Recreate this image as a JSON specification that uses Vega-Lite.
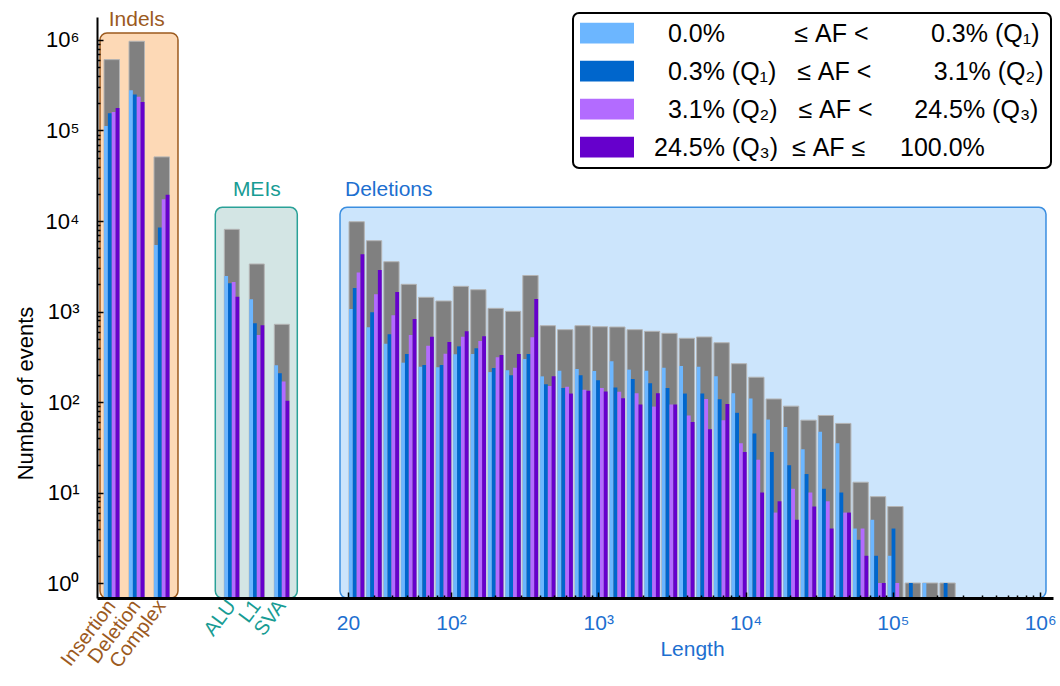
{
  "$schema": "https://vega.github.io/schema/vega-lite/v6.json",
  "width": 956,
  "height": 581,
  "autosize": "none",
  "padding": {"left": 97, "top": 17, "right": 7, "bottom": 88},
  "background": "white",
  "config": {
    "view": {"stroke": null},
    "font": "Liberation Sans",
    "axis": {"labelFont": "Liberation Sans", "titleFont": "Liberation Sans", "grid": false},
    "text": {"font": "Liberation Sans"},
    "legend": {"labelFont": "Liberation Sans", "strokeWidth": 2}
  },
  "datasets": {
    "indels": [
      {"cat": "Insertion", "cls": "total", "n": 607000},
      {"cat": "Insertion", "cls": "q1", "n": 112000},
      {"cat": "Insertion", "cls": "q2", "n": 155000},
      {"cat": "Insertion", "cls": "q3", "n": 160000},
      {"cat": "Insertion", "cls": "q4", "n": 177000},
      {"cat": "Deletion", "cls": "total", "n": 968000},
      {"cat": "Deletion", "cls": "q1", "n": 279000},
      {"cat": "Deletion", "cls": "q2", "n": 250000},
      {"cat": "Deletion", "cls": "q3", "n": 236000},
      {"cat": "Deletion", "cls": "q4", "n": 207000},
      {"cat": "Complex", "cls": "total", "n": 51100},
      {"cat": "Complex", "cls": "q1", "n": 5430},
      {"cat": "Complex", "cls": "q2", "n": 8470},
      {"cat": "Complex", "cls": "q3", "n": 17400},
      {"cat": "Complex", "cls": "q4", "n": 19500}
    ],
    "meis": [
      {"cat": "ALU", "cls": "total", "n": 8090},
      {"cat": "ALU", "cls": "q1", "n": 2470},
      {"cat": "ALU", "cls": "q2", "n": 2050},
      {"cat": "ALU", "cls": "q3", "n": 2120},
      {"cat": "ALU", "cls": "q4", "n": 1460},
      {"cat": "L1", "cls": "total", "n": 3350},
      {"cat": "L1", "cls": "q1", "n": 1365},
      {"cat": "L1", "cls": "q2", "n": 741},
      {"cat": "L1", "cls": "q3", "n": 550},
      {"cat": "L1", "cls": "q4", "n": 703},
      {"cat": "SVA", "cls": "total", "n": 722},
      {"cat": "SVA", "cls": "q1", "n": 254},
      {"cat": "SVA", "cls": "q2", "n": 208},
      {"cat": "SVA", "cls": "q3", "n": 168},
      {"cat": "SVA", "cls": "q4", "n": 103}
    ],
    "dels": [
      {"lo": 20, "cls": "total", "n": 9820}, {"lo": 20, "cls": "q1", "n": 1066}, {"lo": 20, "cls": "q2", "n": 1820}, {"lo": 20, "cls": "q3", "n": 2690}, {"lo": 20, "cls": "q4", "n": 4290},
      {"lo": 26, "cls": "total", "n": 6060}, {"lo": 26, "cls": "q1", "n": 669}, {"lo": 26, "cls": "q2", "n": 980}, {"lo": 26, "cls": "q3", "n": 1550}, {"lo": 26, "cls": "q4", "n": 2870},
      {"lo": 34, "cls": "total", "n": 3550}, {"lo": 34, "cls": "q1", "n": 441}, {"lo": 34, "cls": "q2", "n": 560}, {"lo": 34, "cls": "q3", "n": 908}, {"lo": 34, "cls": "q4", "n": 1640},
      {"lo": 45, "cls": "total", "n": 1997}, {"lo": 45, "cls": "q1", "n": 272}, {"lo": 45, "cls": "q2", "n": 339}, {"lo": 45, "cls": "q3", "n": 550}, {"lo": 45, "cls": "q4", "n": 826},
      {"lo": 59, "cls": "total", "n": 1435}, {"lo": 59, "cls": "q1", "n": 245}, {"lo": 59, "cls": "q2", "n": 256}, {"lo": 59, "cls": "q3", "n": 419}, {"lo": 59, "cls": "q4", "n": 527},
      {"lo": 78, "cls": "total", "n": 1307}, {"lo": 78, "cls": "q1", "n": 242}, {"lo": 78, "cls": "q2", "n": 256}, {"lo": 78, "cls": "q3", "n": 342}, {"lo": 78, "cls": "q4", "n": 460},
      {"lo": 102, "cls": "total", "n": 1897}, {"lo": 102, "cls": "q1", "n": 336}, {"lo": 102, "cls": "q2", "n": 412}, {"lo": 102, "cls": "q3", "n": 527}, {"lo": 102, "cls": "q4", "n": 604},
      {"lo": 134, "cls": "total", "n": 1741}, {"lo": 134, "cls": "q1", "n": 339}, {"lo": 134, "cls": "q2", "n": 392}, {"lo": 134, "cls": "q3", "n": 472}, {"lo": 134, "cls": "q4", "n": 532},
      {"lo": 176, "cls": "total", "n": 1084}, {"lo": 176, "cls": "q1", "n": 214}, {"lo": 176, "cls": "q2", "n": 238}, {"lo": 176, "cls": "q3", "n": 312}, {"lo": 176, "cls": "q4", "n": 331},
      {"lo": 231, "cls": "total", "n": 1005}, {"lo": 231, "cls": "q1", "n": 224}, {"lo": 231, "cls": "q2", "n": 197}, {"lo": 231, "cls": "q3", "n": 239}, {"lo": 231, "cls": "q4", "n": 339},
      {"lo": 303, "cls": "total", "n": 2500}, {"lo": 303, "cls": "q1", "n": 299}, {"lo": 303, "cls": "q2", "n": 339}, {"lo": 303, "cls": "q3", "n": 521}, {"lo": 303, "cls": "q4", "n": 1374},
      {"lo": 398, "cls": "total", "n": 697}, {"lo": 398, "cls": "q1", "n": 192}, {"lo": 398, "cls": "q2", "n": 157}, {"lo": 398, "cls": "q3", "n": 150}, {"lo": 398, "cls": "q4", "n": 192},
      {"lo": 522, "cls": "total", "n": 630}, {"lo": 522, "cls": "q1", "n": 222}, {"lo": 522, "cls": "q2", "n": 143}, {"lo": 522, "cls": "q3", "n": 147}, {"lo": 522, "cls": "q4", "n": 124},
      {"lo": 685, "cls": "total", "n": 697}, {"lo": 685, "cls": "q1", "n": 232}, {"lo": 685, "cls": "q2", "n": 197}, {"lo": 685, "cls": "q3", "n": 137}, {"lo": 685, "cls": "q4", "n": 133},
      {"lo": 899, "cls": "total", "n": 679}, {"lo": 899, "cls": "q1", "n": 220}, {"lo": 899, "cls": "q2", "n": 174}, {"lo": 899, "cls": "q3", "n": 143}, {"lo": 899, "cls": "q4", "n": 131},
      {"lo": 1180, "cls": "total", "n": 674}, {"lo": 1180, "cls": "q1", "n": 282}, {"lo": 1180, "cls": "q2", "n": 145}, {"lo": 1180, "cls": "q3", "n": 130}, {"lo": 1180, "cls": "q4", "n": 110},
      {"lo": 1548, "cls": "total", "n": 630}, {"lo": 1548, "cls": "q1", "n": 228}, {"lo": 1548, "cls": "q2", "n": 180}, {"lo": 1548, "cls": "q3", "n": 125}, {"lo": 1548, "cls": "q4", "n": 94},
      {"lo": 2032, "cls": "total", "n": 604}, {"lo": 2032, "cls": "q1", "n": 222}, {"lo": 2032, "cls": "q2", "n": 161}, {"lo": 2032, "cls": "q3", "n": 89}, {"lo": 2032, "cls": "q4", "n": 125},
      {"lo": 2666, "cls": "total", "n": 574}, {"lo": 2666, "cls": "q1", "n": 239}, {"lo": 2666, "cls": "q2", "n": 143}, {"lo": 2666, "cls": "q3", "n": 94}, {"lo": 2666, "cls": "q4", "n": 94},
      {"lo": 3498, "cls": "total", "n": 506}, {"lo": 3498, "cls": "q1", "n": 250}, {"lo": 3498, "cls": "q2", "n": 124}, {"lo": 3498, "cls": "q3", "n": 71}, {"lo": 3498, "cls": "q4", "n": 60},
      {"lo": 4590, "cls": "total", "n": 523}, {"lo": 4590, "cls": "q1", "n": 245}, {"lo": 4590, "cls": "q2", "n": 124}, {"lo": 4590, "cls": "q3", "n": 108}, {"lo": 4590, "cls": "q4", "n": 50},
      {"lo": 6024, "cls": "total", "n": 452}, {"lo": 6024, "cls": "q1", "n": 192}, {"lo": 6024, "cls": "q2", "n": 107}, {"lo": 6024, "cls": "q3", "n": 63}, {"lo": 6024, "cls": "q4", "n": 95},
      {"lo": 7905, "cls": "total", "n": 265}, {"lo": 7905, "cls": "q1", "n": 125}, {"lo": 7905, "cls": "q2", "n": 76}, {"lo": 7905, "cls": "q3", "n": 35}, {"lo": 7905, "cls": "q4", "n": 28},
      {"lo": 10373, "cls": "total", "n": 188}, {"lo": 10373, "cls": "q1", "n": 109}, {"lo": 10373, "cls": "q2", "n": 45}, {"lo": 10373, "cls": "q3", "n": 23}, {"lo": 10373, "cls": "q4", "n": 10},
      {"lo": 13612, "cls": "total", "n": 108}, {"lo": 13612, "cls": "q1", "n": 64}, {"lo": 13612, "cls": "q2", "n": 28}, {"lo": 13612, "cls": "q3", "n": 6}, {"lo": 13612, "cls": "q4", "n": 8},
      {"lo": 17862, "cls": "total", "n": 90}, {"lo": 17862, "cls": "q1", "n": 53}, {"lo": 17862, "cls": "q2", "n": 20}, {"lo": 17862, "cls": "q3", "n": 11}, {"lo": 17862, "cls": "q4", "n": 5},
      {"lo": 23440, "cls": "total", "n": 63}, {"lo": 23440, "cls": "q1", "n": 30}, {"lo": 23440, "cls": "q2", "n": 16}, {"lo": 23440, "cls": "q3", "n": 10}, {"lo": 23440, "cls": "q4", "n": 7},
      {"lo": 30758, "cls": "total", "n": 71}, {"lo": 30758, "cls": "q1", "n": 47}, {"lo": 30758, "cls": "q2", "n": 11}, {"lo": 30758, "cls": "q3", "n": 8}, {"lo": 30758, "cls": "q4", "n": 4},
      {"lo": 40362, "cls": "total", "n": 58}, {"lo": 40362, "cls": "q1", "n": 35}, {"lo": 40362, "cls": "q2", "n": 10}, {"lo": 40362, "cls": "q3", "n": 6}, {"lo": 40362, "cls": "q4", "n": 6},
      {"lo": 52964, "cls": "total", "n": 13}, {"lo": 52964, "cls": "q1", "n": 4}, {"lo": 52964, "cls": "q2", "n": 3}, {"lo": 52964, "cls": "q3", "n": 4}, {"lo": 52964, "cls": "q4", "n": 2},
      {"lo": 69500, "cls": "total", "n": 9}, {"lo": 69500, "cls": "q1", "n": 5}, {"lo": 69500, "cls": "q2", "n": 2}, {"lo": 69500, "cls": "q3", "n": 1}, {"lo": 69500, "cls": "q4", "n": 1},
      {"lo": 91200, "cls": "total", "n": 7}, {"lo": 91200, "cls": "q1", "n": 2}, {"lo": 91200, "cls": "q2", "n": 4}, {"lo": 91200, "cls": "q3", "n": 1},
      {"lo": 119700, "cls": "total", "n": 1}, {"lo": 119700, "cls": "q2", "n": 1},
      {"lo": 157000, "cls": "total", "n": 1}, {"lo": 157000, "cls": "q1", "n": 1},
      {"lo": 206000, "cls": "total", "n": 1}, {"lo": 206000, "cls": "q2", "n": 1}
    ]
  },
  "resolve": {"scale": {"x": "independent", "xOffset": "independent"}, "axis": {"y": "independent"}},
  "layer": [
    {
      "data": {"values": [{}]},
      "resolve": {"axis": {"x": "independent"}},
      "layer": [
        {
          "mark": {"type": "rect", "fill": "#cce5fc", "stroke": "#3b8ee0", "strokeWidth": 1.5, "cornerRadius": 7},
          "encoding": {
            "x": {"datum": 17.64, "type": "quantitative", "scale": {"type": "log", "domain": [0.3951, 1221800], "nice": false}, "axis": {
              "orient": "bottom",
              "values": [20, 100, 1000, 10000, 100000, 1000000],
              "labelExpr": "datum.value == 20 ? '20' : datum.value == 100 ? '10\u00b2' : datum.value == 1000 ? '10\u00b3' : datum.value == 10000 ? '10\u2074' : datum.value == 100000 ? '10\u2075' : '10\u2076'",
              "tickSize": -6,
              "tickColor": "black", "tickWidth": 1.5,
              "domainColor": "black", "domainWidth": 3,
              "labelColor": "#1d6fd0", "labelFontSize": 21, "labelPadding": 20, "labelOverlap": false, "labelFlush": false,
              "title": "Length", "titleColor": "#1d6fd0", "titleFontSize": 21, "titleFontWeight": "normal", "titleX": 595, "titlePadding": 5,
              "zindex": 1
            }},
            "x2": {"datum": 1095000},
            "y": {"datum": 14170, "type": "quantitative", "scale": {"type": "log", "domain": [0.683, 1795000], "nice": false}, "axis": null},
            "y2": {"datum": 0.683}
          }
        },
        {
          "mark": {"type": "text", "text": "Deletions", "fontSize": 21, "color": "#1d6fd0", "baseline": "middle", "align": "left"},
          "encoding": {
            "x": {"datum": 19.07, "type": "quantitative", "axis": {
              "orient": "bottom",
              "values": [30,40,50,60,70,80,90,200,300,400,500,600,700,800,900,2000,3000,4000,5000,6000,7000,8000,9000,20000,30000,40000,50000,60000,70000,80000,90000,200000,300000,400000,500000,600000,700000,800000,900000],
              "labels": false, "domain": false, "tickSize": -3, "tickColor": "black", "tickWidth": 1.5, "title": null, "zindex": 1
            }},
            "y": {"datum": 22000, "type": "quantitative", "axis": null}
          }
        }
      ]
    },
    {
      "data": {"name": "indels"},
      "layer": [
        {
          "data": {"values": [{}]},
          "mark": {"type": "rect", "fill": "#fdd9b6", "stroke": "#9c5a1e", "strokeWidth": 1.5, "cornerRadius": 7},
          "encoding": {
            "x": {"datum": "Insertion", "type": "nominal", "bandPosition": -0.258, "scale": {"type": "band", "domain": ["Insertion", "Deletion", "Complex"], "range": [7, 72.5], "paddingInner": 0.38, "paddingOuter": 0}},
            "x2": {"datum": "Complex", "bandPosition": 1.548},
            "y": {"datum": 1195000, "type": "quantitative", "scale": {"type": "log", "domain": [0.683, 1795000], "nice": false}},
            "y2": {"datum": 0.683}
          }
        },
        {
          "data": {"values": [{}]},
          "mark": {"type": "text", "text": "Indels", "fontSize": 21, "color": "#9c5a1e", "baseline": "middle", "align": "center"},
          "encoding": {
            "x": {"datum": "Deletion", "type": "nominal"},
            "y": {"datum": 1663000, "type": "quantitative"}
          }
        },
        {
          "transform": [{"filter": "datum.cls == 'total'"}],
          "mark": {"type": "bar", "fill": "#808080", "stroke": "#b4b4b4", "strokeWidth": 1},
          "encoding": {
            "x": {"field": "cat", "type": "nominal", "axis": {"orient": "bottom", "domain": false, "ticks": false, "labelAngle": -53, "labelAlign": "right", "labelBaseline": "middle", "labelColor": "#9c5a1e", "labelFontSize": 20, "labelPadding": 4, "title": null}},
            "y": {"field": "n", "type": "quantitative", "axis": {
              "orient": "left",
              "values": [1, 10, 100, 1000, 10000, 100000, 1000000],
              "labelExpr": "datum.value == 1 ? '10\u2070' : datum.value == 10 ? '10\u00b9' : datum.value == 100 ? '10\u00b2' : datum.value == 1000 ? '10\u00b3' : datum.value == 10000 ? '10\u2074' : datum.value == 100000 ? '10\u2075' : '10\u2076'",
              "tickSize": -6,
              "tickColor": "black", "tickWidth": 1.5,
              "domainColor": "black", "domainWidth": 2,
              "labelColor": "black", "labelFontSize": 22, "labelPadding": 24, "labelOverlap": false, "labelBaseline": "middle",
              "title": "Number of events", "titleFontSize": 22, "titleFontWeight": "normal", "titleColor": "black", "titlePadding": 8, "titleY": 376,
              "zindex": 1
            }},
            "y2": {"datum": 0.683}
          }
        },
        {
          "transform": [{"filter": "datum.cls != 'total'"}],
          "mark": {"type": "bar"},
          "encoding": {
            "x": {"field": "cat", "type": "nominal"},
            "xOffset": {"field": "cls", "type": "nominal", "scale": {"domain": ["q1", "q2", "q3", "q4"], "paddingInner": 0, "paddingOuter": 0}},
            "y": {"field": "n", "type": "quantitative"},
            "y2": {"datum": 0.683},
            "color": {"field": "cls", "type": "nominal",
              "scale": {"domain": ["q1", "q2", "q3", "q4"], "range": ["#6cb6ff", "#0066cc", "#b36bff", "#6600cc"]},
              "legend": {
                "orient": "none", "legendX": 476, "legendY": -4, "title": null,
                "labelExpr": "datum.value == 'q1' ? '\u200b\u00a0\u00a00.0%\u00a0\u00a0\u00a0\u00a0\u00a0\u00a0\u00a0\u00a0\u00a0\u00a0\u2264\u00a0AF\u00a0<\u00a0\u00a0\u00a0\u00a0\u00a0\u00a0\u00a0\u00a0\u00a00.3%\u00a0(Q\u2081)' : datum.value == 'q2' ? '\u200b\u00a0\u00a00.3%\u00a0(Q\u2081)\u00a0\u00a0\u00a0\u2264\u00a0AF\u00a0<\u00a0\u00a0\u00a0\u00a0\u00a0\u00a0\u00a0\u00a0\u00a03.1%\u00a0(Q\u2082)' : datum.value == 'q3' ? '\u200b\u00a0\u00a03.1%\u00a0(Q\u2082)\u00a0\u00a0\u00a0\u2264\u00a0AF\u00a0<\u00a0\u00a0\u00a0\u00a0\u00a0\u00a024.5%\u00a0(Q\u2083)' : '24.5%\u00a0(Q\u2083)\u00a0\u00a0\u2264\u00a0AF\u00a0\u2264\u00a0\u00a0\u00a0\u00a0\u00a0100.0%'",
                "labelFontSize": 25, "labelColor": "black", "labelLimit": 600, "labelBaseline": "bottom",
                "symbolType": "M-1,-0.9H1V-0.13H-1Z", "symbolSize": 2916, "symbolStrokeWidth": 0, "symbolOpacity": 1,
                "labelOffset": 20, "padding": 7, "rowPadding": 11,
                "strokeColor": "black", "fillColor": "white", "cornerRadius": 6
              }
            }
          }
        }
      ]
    },
    {
      "data": {"name": "meis"},
      "layer": [
        {
          "data": {"values": [{}]},
          "mark": {"type": "rect", "fill": "#d3e5e4", "stroke": "#2aa198", "strokeWidth": 1.5, "cornerRadius": 7},
          "encoding": {
            "x": {"datum": "ALU", "type": "nominal", "bandPosition": -0.6, "scale": {"type": "band", "domain": ["ALU", "L1", "SVA"], "range": [127.3, 192.3], "paddingInner": 0.4, "paddingOuter": 0}},
            "x2": {"datum": "SVA", "bandPosition": 1.533},
            "y": {"datum": 14170, "type": "quantitative", "scale": {"type": "log", "domain": [0.683, 1795000], "nice": false}},
            "y2": {"datum": 0.683}
          }
        },
        {
          "data": {"values": [{}]},
          "mark": {"type": "text", "text": "MEIs", "fontSize": 21, "color": "#179c94", "baseline": "middle", "align": "center"},
          "encoding": {
            "x": {"datum": "L1", "type": "nominal"},
            "y": {"datum": 22000, "type": "quantitative"}
          }
        },
        {
          "transform": [{"filter": "datum.cls == 'total'"}],
          "mark": {"type": "bar", "fill": "#808080", "stroke": "#b4b4b4", "strokeWidth": 1},
          "encoding": {
            "x": {"field": "cat", "type": "nominal", "axis": {"orient": "bottom", "domain": false, "ticks": false, "labelAngle": -53, "labelAlign": "right", "labelBaseline": "middle", "labelColor": "#179c94", "labelFontSize": 20, "labelPadding": 4, "title": null}},
            "y": {"field": "n", "type": "quantitative", "axis": {
              "orient": "left",
              "values": [2,3,4,5,6,7,8,9,20,30,40,50,60,70,80,90,200,300,400,500,600,700,800,900,2000,3000,4000,5000,6000,7000,8000,9000,20000,30000,40000,50000,60000,70000,80000,90000,200000,300000,400000,500000,600000,700000,800000,900000],
              "labels": false, "domain": false, "tickSize": -3, "tickColor": "black", "tickWidth": 1.5, "title": null, "zindex": 1
            }},
            "y2": {"datum": 0.683}
          }
        },
        {
          "transform": [{"filter": "datum.cls != 'total'"}],
          "mark": {"type": "bar"},
          "encoding": {
            "x": {"field": "cat", "type": "nominal"},
            "xOffset": {"field": "cls", "type": "nominal", "scale": {"domain": ["q1", "q2", "q3", "q4"], "paddingInner": 0, "paddingOuter": 0}},
            "y": {"field": "n", "type": "quantitative"},
            "y2": {"datum": 0.683},
            "color": {"field": "cls", "type": "nominal", "legend": null}
          }
        }
      ]
    },
    {
      "data": {"name": "dels"},
      "layer": [
        {
          "transform": [{"filter": "datum.cls == 'total'"}],
          "mark": {"type": "bar", "fill": "#808080", "stroke": "#b4b4b4", "strokeWidth": 1},
          "encoding": {
            "x": {"field": "lo", "type": "ordinal", "scale": {"type": "band", "range": [252, 858.2], "paddingInner": 0.118, "paddingOuter": 0}, "axis": null},
            "y": {"field": "n", "type": "quantitative", "scale": {"type": "log", "domain": [0.683, 1795000], "nice": false}, "axis": null},
            "y2": {"datum": 0.683}
          }
        },
        {
          "transform": [{"filter": "datum.cls != 'total'"}],
          "mark": {"type": "bar"},
          "encoding": {
            "x": {"field": "lo", "type": "ordinal", "axis": null},
            "xOffset": {"field": "cls", "type": "nominal", "scale": {"domain": ["q1", "q2", "q3", "q4"], "paddingInner": 0, "paddingOuter": 0}},
            "y": {"field": "n", "type": "quantitative", "axis": null},
            "y2": {"datum": 0.683},
            "color": {"field": "cls", "type": "nominal", "legend": null}
          }
        }
      ]
    }
  ]
}
